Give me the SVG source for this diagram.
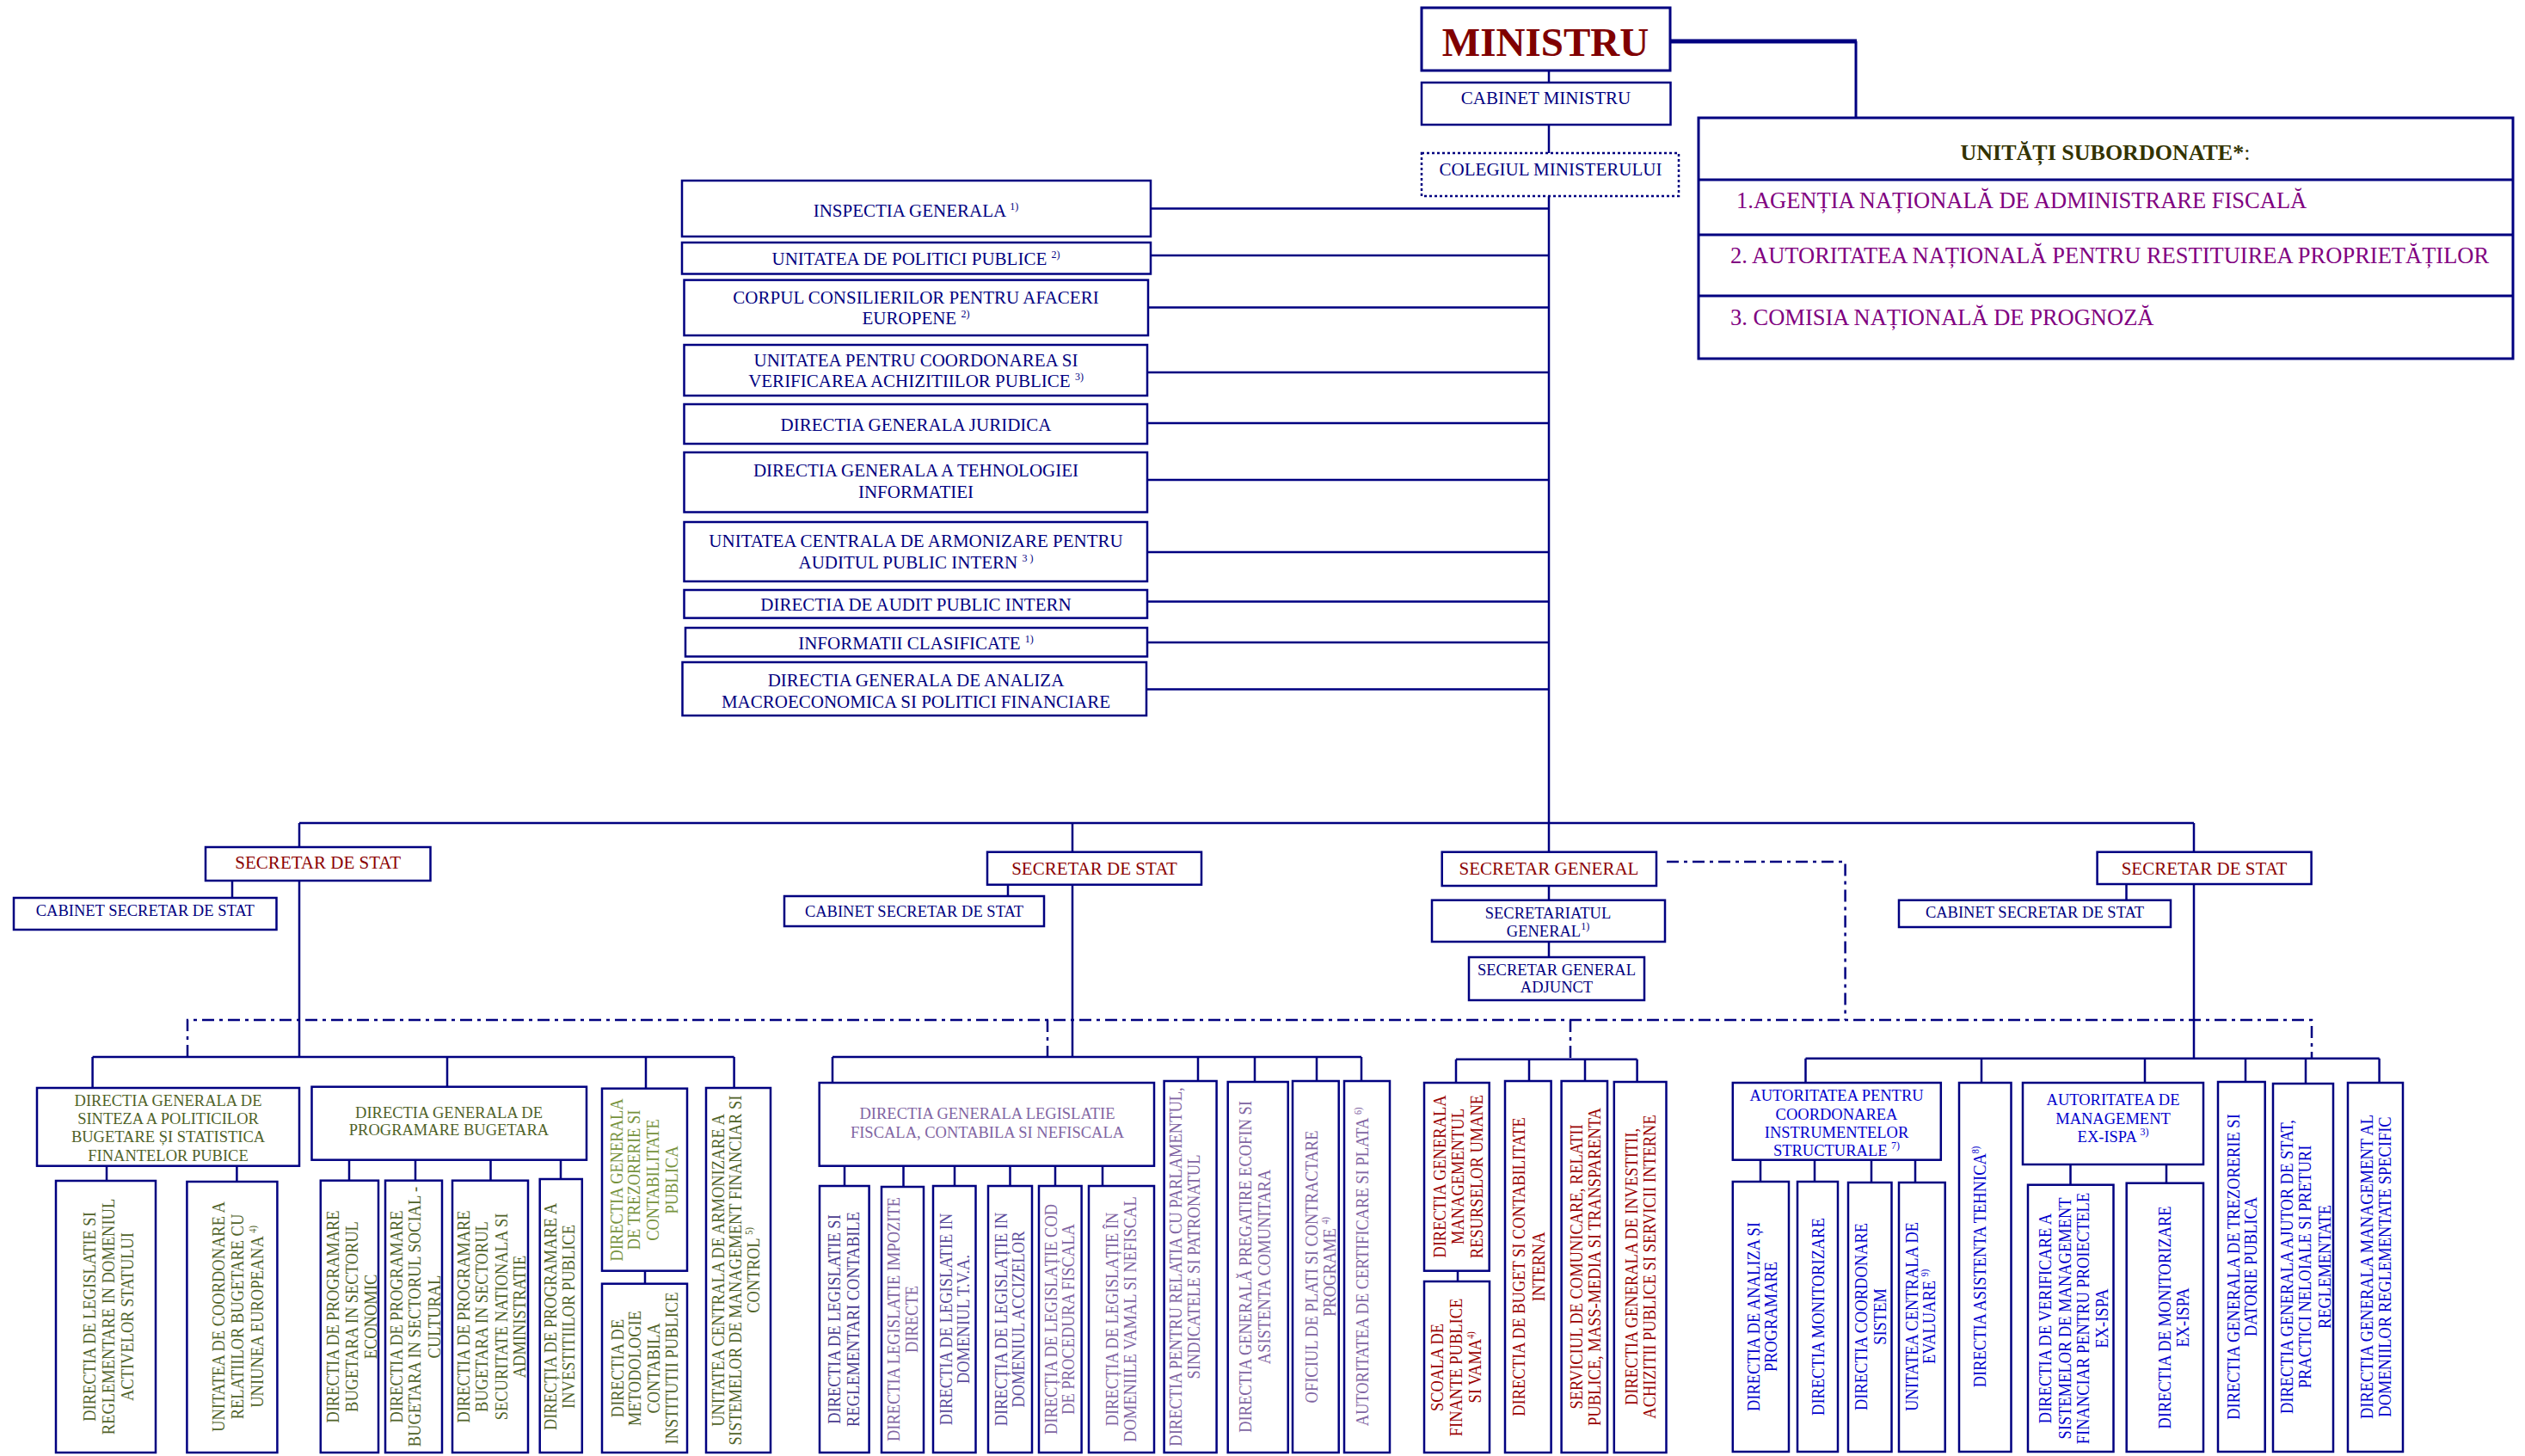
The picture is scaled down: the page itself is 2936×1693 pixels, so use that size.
<svg xmlns="http://www.w3.org/2000/svg" width="2936" height="1693" viewBox="0 0 2936 1693">
<style>
.box{fill:#fff;stroke:#000080;stroke-width:2.5}
.dot{fill:#fff;stroke:#000080;stroke-width:2.5;stroke-dasharray:3 3}
.ln{fill:none;stroke:#000080;stroke-width:2.5}
.dd{fill:none;stroke:#000080;stroke-width:2.5;stroke-dasharray:14 6 4 6}
text{font-family:"Liberation Serif","Times New Roman",serif}
.h{font-size:21px;text-anchor:middle}
.s{font-size:18.5px;text-anchor:middle}
.v{font-size:22px;text-anchor:middle}
.sup{font-size:12px}
.navy{fill:#000080}
.dred{fill:#8B0000}
.olive{fill:#4F6228}
.lgreen{fill:#76923C}
.lav{fill:#8064A2}
.dlav{fill:#4B3D8F}
.mlav{fill:#5B4B9B}
.red3{fill:#990000}
.blue{fill:#0000CC}
.purp{fill:#800080;font-size:26.5px}
</style>
<rect width="2936" height="1693" fill="#fff"/>
<g id="connectors">
<path class="ln" d="M1801,82V96M1801,145V178M1801,228V957"/>
<path fill="none" stroke="#000080" stroke-width="5" d="M1942,48H2159"/>
<path fill="none" stroke="#000080" stroke-width="3" d="M2158,48V137"/>
<path class="ln" d="M1338,242.6H1801M1338,297H1801M1335,357.5H1801M1334,433H1801M1334,492H1801M1334,558H1801M1334,642H1801M1334,699.5H1801M1334,747H1801M1333,801.5H1801"/>
<path class="ln" d="M348,957H2551M348,957V985M348,1024V1229M270,1024V1044M1247,957V990.7M1247,1028.7V1229M1172,1028.7V1042M1801,957V990.7M1801,1030V1046.7M1801,1095V1113M2551,957V990.7M2551,1028V1230.7M2472.5,1028V1046.7"/>
<path class="ln" d="M107.6,1229H853.6M107.6,1229V1265M520,1229V1263.7M751,1229V1265.7M853.6,1229V1265M124,1355.7V1373M275.4,1355.7V1374M406,1348.7V1372.7M483,1348.7V1372.7M570.5,1348.7V1372.7M652,1348.7V1371M750,1477.7V1492.7"/>
<path class="ln" d="M968,1229H1583M968,1229V1259M1393,1229V1257M1459,1229V1258M1531,1229V1257M1583,1229V1257M982,1355.7V1379M1050.5,1355.7V1380M1110,1355.7V1379M1174.5,1355.7V1379M1227,1355.7V1379M1282,1355.7V1379"/>
<path class="ln" d="M1693,1231.7H1903.6M1693,1231.7V1259M1778,1231.7V1257M1843,1231.7V1257M1903.6,1231.7V1258M1695,1477.7V1490"/>
<path class="ln" d="M2099.5,1230.7H2766.6M2099.5,1230.7V1259M2304,1230.7V1259M2494,1230.7V1259M2611,1230.7V1258M2681,1230.7V1260M2766.6,1230.7V1259M2047,1348.7V1374M2110,1348.7V1374M2176,1348.7V1375M2227,1348.7V1375M2407.5,1354V1377.7M2519,1354V1375.7"/>
<path class="dd" d="M218,1229V1186H2688V1230.7M1218,1186V1229M1826,1186V1231.7M1938,1002H2145.6V1186"/>
</g>
<g id="ministru"><rect x="1653" y="9" width="289" height="73" fill="#fff" stroke="#000080" stroke-width="3"/><text x="1797" y="65" font-size="47" font-weight="bold" text-anchor="middle" fill="#800000">MINISTRU</text></g>
<g id="cabinet-ministru"><rect class="box" x="1653" y="96" width="289.5" height="49"/><text class="h navy" x="1797.5" y="121">CABINET MINISTRU</text></g>
<g id="colegiul"><rect class="dot" x="1653" y="178" width="299" height="50"/><text class="h navy" x="1803" y="204">COLEGIUL MINISTERULUI</text></g>
<g id="unitati">
<rect x="1975" y="137" width="947" height="280" fill="#fff" stroke="#000080" stroke-width="3"/>
<path fill="none" stroke="#000080" stroke-width="3" d="M1975,209H2922M1975,273H2922M1975,344H2922"/>
<text x="2448" y="186" font-size="26" text-anchor="middle" fill="#333300"><tspan font-weight="bold">UNITĂȚI SUBORDONATE*</tspan>:</text>
<text class="purp" x="2019" y="242">1.AGENȚIA NAȚIONALĂ DE ADMINISTRARE FISCALĂ</text>
<text class="purp" x="2012" y="306">2. AUTORITATEA NAȚIONALĂ PENTRU RESTITUIREA PROPRIETĂȚILOR</text>
<text class="purp" x="2012" y="378">3. COMISIA NAȚIONALĂ DE PROGNOZĂ</text>
</g>
<g id="inspectia"><rect class="box" x="793" y="210" width="545" height="65"/><text class="h navy" x="1065" y="252">INSPECTIA GENERALA <tspan class="sup" dy="-8">1)</tspan></text></g>
<g id="upp"><rect class="box" x="793" y="282" width="545" height="36.5"/><text class="h navy" x="1065" y="308">UNITATEA DE POLITICI PUBLICE  <tspan class="sup" dy="-8">2)</tspan></text></g>
<g id="corpul"><rect class="box" x="795.5" y="325.6" width="539.5" height="64.4"/><text class="h navy"><tspan x="1065" y="352.5">CORPUL CONSILIERILOR PENTRU AFACERI</tspan><tspan x="1065" y="377">EUROPENE  <tspan class="sup" dy="-8">2)</tspan></tspan></text></g>
<g id="ucvap"><rect class="box" x="795.5" y="401" width="538.5" height="59"/><text class="h navy"><tspan x="1065" y="426">UNITATEA PENTRU COORDONAREA SI</tspan><tspan x="1065" y="450">VERIFICAREA ACHIZITIILOR PUBLICE <tspan class="sup" dy="-8">3)</tspan></tspan></text></g>
<g id="juridica"><rect class="box" x="795.5" y="470" width="538.5" height="46"/><text class="h navy" x="1065" y="500.5">DIRECTIA GENERALA JURIDICA</text></g>
<g id="tehnologiei"><rect class="box" x="795.5" y="526" width="538.5" height="69.5"/><text class="h navy"><tspan x="1065" y="554">DIRECTIA GENERALA A TEHNOLOGIEI</tspan><tspan x="1065" y="579">INFORMATIEI</tspan></text></g>
<g id="ucaapi"><rect class="box" x="795.5" y="607" width="538.5" height="69"/><text class="h navy"><tspan x="1065" y="635.5">UNITATEA CENTRALA  DE ARMONIZARE PENTRU</tspan><tspan x="1065" y="660.5">AUDITUL PUBLIC INTERN <tspan class="sup" dy="-8">3 )</tspan></tspan></text></g>
<g id="audit"><rect class="box" x="795.5" y="686" width="538.5" height="32.6"/><text class="h navy" x="1065" y="710">DIRECTIA DE AUDIT PUBLIC INTERN</text></g>
<g id="informatii"><rect class="box" x="797" y="730" width="537" height="33.4"/><text class="h navy" x="1065" y="754.5">INFORMATII CLASIFICATE <tspan class="sup" dy="-8">1)</tspan></text></g>
<g id="analiza"><rect class="box" x="793.5" y="770" width="539.5" height="62"/><text class="h navy"><tspan x="1065" y="798">DIRECTIA GENERALA DE ANALIZA</tspan><tspan x="1065" y="823">MACROECONOMICA SI POLITICI FINANCIARE</tspan></text></g>
<g id="ss1"><rect class="box" x="239" y="985" width="261.5" height="39"/><text class="h dred" x="369.7" y="1010">SECRETAR DE STAT</text></g>
<g id="cab1"><rect class="box" x="16" y="1044" width="305.5" height="37"/><text class="s navy" x="168.8" y="1065">CABINET SECRETAR DE STAT</text></g>
<g id="ss2"><rect class="box" x="1148" y="990.7" width="249" height="38"/><text class="h dred" x="1272.5" y="1016.5">SECRETAR DE STAT</text></g>
<g id="cab2"><rect class="box" x="912" y="1042" width="302" height="35"/><text class="s navy" x="1063" y="1065.5">CABINET SECRETAR DE STAT</text></g>
<g id="sg"><rect class="box" x="1676.7" y="990.7" width="249.3" height="39.3"/><text class="h dred" x="1801" y="1017">SECRETAR GENERAL</text></g>
<g id="secretariat"><rect class="box" x="1665" y="1046.7" width="271" height="48.3"/><text class="s navy"><tspan x="1800" y="1068">SECRETARIATUL</tspan><tspan x="1800" y="1089">GENERAL<tspan class="sup" dy="-8">1)</tspan></tspan></text></g>
<g id="sga"><rect class="box" x="1708" y="1113" width="204" height="50"/><text class="s navy"><tspan x="1810" y="1134">SECRETAR GENERAL</tspan><tspan x="1810" y="1154">ADJUNCT</tspan></text></g>
<g id="ss4"><rect class="box" x="2438.6" y="990.7" width="249" height="37.3"/><text class="h dred" x="2563" y="1016.5">SECRETAR DE STAT</text></g>
<g id="cab4"><rect class="box" x="2208" y="1046.7" width="316" height="31.3"/><text class="s navy" x="2366" y="1066.5">CABINET SECRETAR DE STAT</text></g>
<g id="sinteza"><rect class="box" x="43" y="1265" width="305" height="90.7"/><text class="s olive"><tspan x="195.5" y="1286">DIRECTIA GENERALA DE</tspan><tspan x="195.5" y="1307">SINTEZA A POLITICILOR</tspan><tspan x="195.5" y="1328">BUGETARE ȘI STATISTICA</tspan><tspan x="195.5" y="1350">FINANTELOR PUBICE</tspan></text></g>
<g id="g1a"><rect class="box" x="65" y="1373" width="116" height="316"/><text class="v olive" transform="translate(111,1531) rotate(-90) scale(0.84,1)"><tspan x="0" y="0">DIRECTIA DE LEGISLATIE SI</tspan><tspan x="0" y="22.4">REGLEMENTARE IN DOMENIUL</tspan><tspan x="0" y="44.4">ACTIVELOR STATULUI</tspan></text></g>
<g id="g1b"><rect class="box" x="217.4" y="1374" width="105" height="315"/><text class="v olive" transform="translate(260.5,1531) rotate(-90) scale(0.84,1)"><tspan x="0" y="0">UNITATEA DE COORDONARE A</tspan><tspan x="0" y="23">RELATIILOR BUGETARE CU</tspan><tspan x="0" y="46">UNIUNEA EUROPEANA <tspan class="sup" dy="-8">4)</tspan></tspan></text></g>
<g id="progbug"><rect class="box" x="362.5" y="1263.7" width="319.5" height="85"/><text class="s olive"><tspan x="522" y="1300">DIRECTIA GENERALA DE</tspan><tspan x="522" y="1320">PROGRAMARE BUGETARA</tspan></text></g>
<g id="g1c"><rect class="box" x="372.8" y="1372.7" width="67.2" height="316.3"/><text class="v olive" transform="translate(393.5,1531) rotate(-90) scale(0.84,1)"><tspan x="0" y="0">DIRECTIA DE PROGRAMARE</tspan><tspan x="0" y="22.5">BUGETARA IN SECTORUL</tspan><tspan x="0" y="45">ECONOMIC</tspan></text></g>
<g id="g1d"><rect class="box" x="448" y="1372.7" width="66" height="316.3"/><text class="v olive" transform="translate(467.5,1531) rotate(-90) scale(0.84,1)"><tspan x="0" y="0">DIRECTIA DE PROGRAMARE</tspan><tspan x="0" y="22">BUGETARA IN SECTORUL SOCIAL -</tspan><tspan x="0" y="44.5">CULTURAL</tspan></text></g>
<g id="g1e"><rect class="box" x="526" y="1372.7" width="88" height="316.3"/><text class="v olive" transform="translate(545.5,1531) rotate(-90) scale(0.84,1)"><tspan x="0" y="0">DIRECTIA DE PROGRAMARE</tspan><tspan x="0" y="22">BUGETARA IN SECTORUL</tspan><tspan x="0" y="44.6">SECURITATE NATIONALA SI</tspan><tspan x="0" y="65.6">ADMINISTRATIE</tspan></text></g>
<g id="g1f"><rect class="box" x="627.7" y="1371" width="49.1" height="318"/><text class="v olive" transform="translate(646.5,1531) rotate(-90) scale(0.84,1)"><tspan x="0" y="0">DIRECȚIA DE PROGRAMARE A</tspan><tspan x="0" y="21.7">INVESTITIILOR PUBLICE</tspan></text></g>
<g id="trezorerie"><rect class="box" x="700" y="1265.7" width="99" height="212"/><text class="v lgreen" transform="translate(723.5,1372) rotate(-90) scale(0.84,1)"><tspan x="0" y="0">DIRECTIA GENERALA</tspan><tspan x="0" y="21">DE TREZORERIE SI</tspan><tspan x="0" y="43">CONTABILITATE</tspan><tspan x="0" y="65">PUBLICA</tspan></text></g>
<g id="metodologie"><rect class="box" x="700" y="1492.7" width="99" height="196.3"/><text class="v olive" transform="translate(724.5,1591) rotate(-90) scale(0.84,1)"><tspan x="0" y="0">DIRECTIA DE</tspan><tspan x="0" y="21">METODOLOGIE</tspan><tspan x="0" y="42.4">CONTABILA</tspan><tspan x="0" y="64">INSTITUTII PUBLICE</tspan></text></g>
<g id="armonizare"><rect class="box" x="821" y="1265" width="75" height="424"/><text class="v olive" transform="translate(841.5,1477) rotate(-90) scale(0.84,1)"><tspan x="0" y="0">UNITATEA CENTRALA DE ARMONIZARE A</tspan><tspan x="0" y="20.5">SISTEMELOR DE MANAGEMENT FINANCIAR SI</tspan><tspan x="0" y="42">CONTROL <tspan class="sup" dy="-8">5)</tspan></tspan></text></g>
<g id="legislatie"><rect class="box" x="952.7" y="1259" width="389.3" height="96.7"/><text class="s lav"><tspan x="1148" y="1301">DIRECTIA GENERALA LEGISLATIE</tspan><tspan x="1148" y="1323">FISCALA, CONTABILA SI NEFISCALA</tspan></text></g>
<g id="l1"><rect class="box" x="953" y="1379" width="57.6" height="310"/><text class="v dlav" transform="translate(976.5,1534) rotate(-90) scale(0.84,1)"><tspan x="0" y="0">DIRECTIA DE LEGISLATIE SI</tspan><tspan x="0" y="23">REGLEMENTARI CONTABILE</tspan></text></g>
<g id="l2"><rect class="box" x="1025" y="1380" width="49" height="309"/><text class="v lav" transform="translate(1045.5,1534) rotate(-90) scale(0.84,1)"><tspan x="0" y="0">DIRECTIA LEGISLATIE IMPOZITE</tspan><tspan x="0" y="22">DIRECTE</tspan></text></g>
<g id="l3"><rect class="box" x="1085" y="1379" width="49.5" height="310"/><text class="v mlav" transform="translate(1106.5,1534) rotate(-90) scale(0.84,1)"><tspan x="0" y="0">DIRECTIA DE LEGISLATIE IN</tspan><tspan x="0" y="21">DOMENIUL T.V.A.</tspan></text></g>
<g id="l4"><rect class="box" x="1149" y="1379" width="51" height="310"/><text class="v mlav" transform="translate(1170.5,1534) rotate(-90) scale(0.84,1)"><tspan x="0" y="0">DIRECȚIA DE LEGISLAȚIE IN</tspan><tspan x="0" y="21">DOMENIUL ACCIZELOR</tspan></text></g>
<g id="l5"><rect class="box" x="1208" y="1379" width="49.6" height="310"/><text class="v lav" transform="translate(1228.5,1534) rotate(-90) scale(0.84,1)"><tspan x="0" y="0">DIRECȚIA DE LEGISLAȚIE COD</tspan><tspan x="0" y="21">DE PROCEDURA FISCALA</tspan></text></g>
<g id="l6"><rect class="box" x="1266" y="1379" width="76" height="310"/><text class="v lav" transform="translate(1299.5,1534) rotate(-90) scale(0.84,1)"><tspan x="0" y="0">DIRECȚIA DE LEGISLAȚIE ÎN</tspan><tspan x="0" y="21.6">DOMENIILE VAMAL SI NEFISCAL</tspan></text></g>
<g id="parlament"><rect class="box" x="1353.6" y="1257" width="61" height="432"/><text class="v lav" transform="translate(1373.5,1473) rotate(-90) scale(0.84,1)"><tspan x="0" y="0">DIRECTIA PENTRU RELATIA CU PARLAMENTUL,</tspan><tspan x="0" y="22">SINDICATELE SI PATRONATUL</tspan></text></g>
<g id="ecofin"><rect class="box" x="1427.7" y="1258" width="70" height="431"/><text class="v lav" transform="translate(1454.5,1473) rotate(-90) scale(0.84,1)"><tspan x="0" y="0">DIRECTIA GENERALĂ PREGATIRE ECOFIN SI</tspan><tspan x="0" y="22.6">ASISTENTA COMUNITARA</tspan></text></g>
<g id="oficiul"><rect class="box" x="1503" y="1257" width="53.7" height="432"/><text class="v lav" transform="translate(1532,1473) rotate(-90) scale(0.84,1)"><tspan x="0" y="0">OFICIUL DE PLATI SI CONTRACTARE</tspan><tspan x="0" y="21">PROGRAME <tspan class="sup" dy="-8">4)</tspan></tspan></text></g>
<g id="certificare"><rect class="box" x="1563" y="1257" width="53" height="432"/><text class="v lav" transform="translate(1591,1473) rotate(-90) scale(0.84,1)"><tspan x="0" y="0">AUTORITATEA DE CERTIFICARE SI PLATA <tspan class="sup" dy="-8">6)</tspan></tspan></text></g>
<g id="mru"><rect class="box" x="1656" y="1259" width="75.7" height="218.7"/><text class="v red3" transform="translate(1680.5,1368) rotate(-90) scale(0.84,1)"><tspan x="0" y="0">DIRECTIA GENERALA</tspan><tspan x="0" y="22">MANAGEMENTUL</tspan><tspan x="0" y="43.7">RESURSELOR UMANE</tspan></text></g>
<g id="scoala"><rect class="box" x="1656" y="1490" width="76" height="199"/><text class="v red3" transform="translate(1678,1590) rotate(-90) scale(0.84,1)"><tspan x="0" y="0">SCOALA DE</tspan><tspan x="0" y="22.5">FINANTE PUBLICE</tspan><tspan x="0" y="44.5">SI VAMA<tspan class="sup" dy="-8">4)</tspan></tspan></text></g>
<g id="buget"><rect class="box" x="1750" y="1257" width="53.6" height="432"/><text class="v red3" transform="translate(1773,1473) rotate(-90) scale(0.84,1)"><tspan x="0" y="0">DIRECTIA DE BUGET SI CONTABILITATE</tspan><tspan x="0" y="23.4">INTERNA</tspan></text></g>
<g id="serviciul"><rect class="box" x="1815.6" y="1257" width="53.4" height="432"/><text class="v red3" transform="translate(1839.5,1473) rotate(-90) scale(0.84,1)"><tspan x="0" y="0">SERVICIUL DE COMUNICARE, RELATII</tspan><tspan x="0" y="21.6">PUBLICE, MASS-MEDIA SI TRANSPARENTA</tspan></text></g>
<g id="investitii"><rect class="box" x="1876.8" y="1258" width="60.7" height="431"/><text class="v red3" transform="translate(1903.5,1473) rotate(-90) scale(0.84,1)"><tspan x="0" y="0">DIRECTIA GENERALA DE INVESTITII,</tspan><tspan x="0" y="22">ACHIZITII PUBLICE SI SERVICII INTERNE</tspan></text></g>
<g id="acis"><rect class="box" x="2014.8" y="1259" width="242" height="89.7"/><text class="s blue"><tspan x="2135.5" y="1280">AUTORITATEA PENTRU</tspan><tspan x="2135.5" y="1302">COORDONAREA</tspan><tspan x="2135.5" y="1323">INSTRUMENTELOR</tspan><tspan x="2135.5" y="1344">STRUCTURALE <tspan class="sup" dy="-8">7)</tspan></tspan></text></g>
<g id="g4a"><rect class="box" x="2014.8" y="1374" width="65.2" height="314"/><text class="v blue" transform="translate(2045.5,1531) rotate(-90) scale(0.84,1)"><tspan x="0" y="0">DIRECTIA DE ANALIZA ȘI</tspan><tspan x="0" y="21">PROGRAMARE</tspan></text></g>
<g id="g4b"><rect class="box" x="2090" y="1374" width="47" height="314"/><text class="v blue" transform="translate(2120.5,1531) rotate(-90) scale(0.84,1)">DIRECTIA MONITORIZARE</text></g>
<g id="g4c"><rect class="box" x="2149" y="1375" width="50.5" height="313"/><text class="v blue" transform="translate(2170.5,1531) rotate(-90) scale(0.84,1)"><tspan x="0" y="0">DIRECTIA COORDONARE</tspan><tspan x="0" y="22.5">SISTEM</tspan></text></g>
<g id="g4d"><rect class="box" x="2208" y="1375" width="53.7" height="313"/><text class="v blue" transform="translate(2229.5,1531) rotate(-90) scale(0.84,1)"><tspan x="0" y="0">UNITATEA CENTRALA DE</tspan><tspan x="0" y="21">EVALUARE <tspan class="sup" dy="-8">9)</tspan></tspan></text></g>
<g id="asistenta"><rect class="box" x="2278" y="1259" width="60.5" height="429"/><text class="v blue" transform="translate(2308.5,1473) rotate(-90) scale(0.84,1)">DIRECTIA ASISTENTA TEHNICA<tspan class="sup" dy="-8">8)</tspan></text></g>
<g id="amexispa"><rect class="box" x="2352" y="1259" width="210" height="95"/><text class="s blue"><tspan x="2457" y="1285">AUTORITATEA DE</tspan><tspan x="2457" y="1307">MANAGEMENT</tspan><tspan x="2457" y="1328">EX-ISPA <tspan class="sup" dy="-8">3)</tspan></tspan></text></g>
<g id="verificare"><rect class="box" x="2358" y="1377.7" width="99.5" height="310.3"/><text class="v blue" transform="translate(2385,1533) rotate(-90) scale(0.84,1)"><tspan x="0" y="0">DIRECTIA DE VERIFICARE A</tspan><tspan x="0" y="23">SISTEMELOR DE MANAGEMENT</tspan><tspan x="0" y="44.4">FINANCIAR PENTRU PROIECTELE</tspan><tspan x="0" y="65.8">EX-ISPA</tspan></text></g>
<g id="monitexispa"><rect class="box" x="2472.7" y="1375.7" width="89.3" height="312.3"/><text class="v blue" transform="translate(2524,1532) rotate(-90) scale(0.84,1)"><tspan x="0" y="0">DIRECTIA DE MONITORIZARE</tspan><tspan x="0" y="21.4">EX-ISPA</tspan></text></g>
<g id="trezdat"><rect class="box" x="2579" y="1258" width="54.7" height="430"/><text class="v blue" transform="translate(2603.5,1473) rotate(-90) scale(0.84,1)"><tspan x="0" y="0">DIRECTIA GENERALA DE TREZORERIE SI</tspan><tspan x="0" y="21">DATORIE PUBLICA</tspan></text></g>
<g id="ajutor"><rect class="box" x="2643" y="1260" width="70" height="428"/><text class="v blue" transform="translate(2665.5,1473) rotate(-90) scale(0.84,1)"><tspan x="0" y="0">DIRECTIA GENERALA AJUTOR DE STAT,</tspan><tspan x="0" y="22">PRACTICI NELOIALE  SI PRETURI</tspan><tspan x="0" y="44.6">REGLEMENTATE</tspan></text></g>
<g id="mgmtspec"><rect class="box" x="2730" y="1259" width="64" height="429"/><text class="v blue" transform="translate(2758.5,1473) rotate(-90) scale(0.84,1)"><tspan x="0" y="0">DIRECTIA GENERALA MANAGEMENT AL</tspan><tspan x="0" y="21.7">DOMENIILOR REGLEMENTATE SPECIFIC</tspan></text></g>
</svg>
